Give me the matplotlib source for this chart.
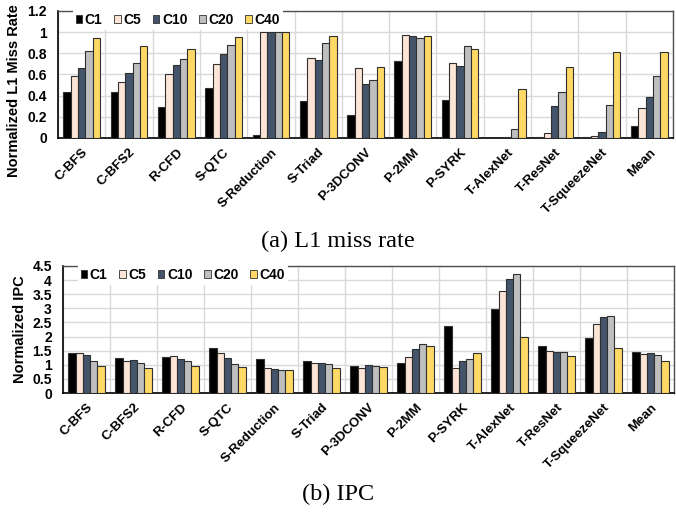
import matplotlib
matplotlib.use("Agg")
import matplotlib.pyplot as plt
import matplotlib.transforms as mtransforms
import numpy as np
from matplotlib.ticker import FuncFormatter, FixedLocator

categories = ["C-BFS", "C-BFS2", "R-CFD", "S-QTC", "S-Reduction", "S-Triad", "P-3DCONV",
              "P-2MM", "P-SYRK", "T-AlexNet", "T-ResNet", "T-SqueezeNet", "Mean"]
series = ["C1", "C5", "C10", "C20", "C40"]

miss_c1 = [0.43, 0.43, 0.29, 0.47, 0.03, 0.35, 0.22, 0.73, 0.36, 0.002, 0.01, 0.01, 0.11]
miss_c5 = [0.59, 0.53, 0.60, 0.70, 1.00, 0.76, 0.66, 0.975, 0.71, 0.003, 0.05, 0.02, 0.28]
miss_c10 = [0.66, 0.61, 0.69, 0.79, 1.00, 0.74, 0.51, 0.965, 0.68, 0.01, 0.30, 0.06, 0.39]
miss_c20 = [0.82, 0.71, 0.75, 0.88, 1.00, 0.90, 0.55, 0.94, 0.865, 0.085, 0.43, 0.31, 0.59]
miss_c40 = [0.94, 0.87, 0.84, 0.95, 1.00, 0.96, 0.67, 0.965, 0.84, 0.46, 0.67, 0.815, 0.81]

ipc_c1 = [1.40, 1.23, 1.26, 1.61, 1.20, 1.15, 0.97, 1.05, 2.37, 2.96, 1.65, 1.94, 1.47]
ipc_c5 = [1.43, 1.15, 1.30, 1.40, 0.90, 1.05, 0.90, 1.26, 0.90, 3.63, 1.50, 2.43, 1.37]
ipc_c10 = [1.35, 1.16, 1.22, 1.23, 0.84, 1.08, 1.01, 1.55, 1.13, 4.04, 1.47, 2.69, 1.40]
ipc_c20 = [1.14, 1.05, 1.14, 1.02, 0.82, 1.03, 0.95, 1.72, 1.21, 4.21, 1.47, 2.74, 1.36]
ipc_c40 = [0.95, 0.89, 0.97, 0.92, 0.81, 0.89, 0.91, 1.68, 1.40, 2.00, 1.30, 1.60, 1.14]

miss_ticks = [0, 0.2, 0.4, 0.6, 0.8, 1, 1.2]
ipc_ticks = [0, 0.5, 1, 1.5, 2, 2.5, 3, 3.5, 4, 4.5]

colors = ["#000000", "#FCE4D6", "#44546A", "#BFBFBF", "#FFD966"]

plt.rcParams['font.family'] = ['Liberation Sans', 'DejaVu Sans']

fig = plt.figure(figsize=(6.76, 5.13), dpi=100)


def draw(ax, data, ticks, ylabel, label_xy):
    n = len(categories)
    x = np.arange(n)
    w = 0.155
    for i, (vals, c) in enumerate(zip(data, colors)):
        ax.bar(x + (i - 2) * w, vals, w, color=c, edgecolor="#303030", linewidth=0.8,
               label=series[i], zorder=3)
    ax.set_xlim(-0.5, n - 0.5)
    ax.set_ylim(ticks[0], ticks[-1])
    ax.yaxis.set_major_locator(FixedLocator(ticks))
    ax.yaxis.set_major_formatter(FuncFormatter(lambda v, p: "{:g}".format(v)))
    ax.set_xticks(x)
    ax.set_xticklabels(categories, rotation=45, ha="right", rotation_mode="anchor",
                       fontsize=9.5, fontweight="bold")
    offset = mtransforms.ScaledTranslation(-7 / 100, -9 / 100, fig.dpi_scale_trans)
    for lab in ax.get_xticklabels():
        lab.set_transform(lab.get_transform() + offset)
    ax.xaxis.set_minor_locator(FixedLocator(np.arange(n + 1) - 0.5))
    ax.grid(True, axis="y", which="major", color="#D9D9D9", linewidth=1, zorder=0)
    ax.grid(True, axis="x", which="minor", color="#D9D9D9", linewidth=1, zorder=0)
    ax.tick_params(axis="x", which="both", length=0, pad=6)
    ax.tick_params(axis="y", length=0, pad=8)
    for lab in ax.get_yticklabels():
        lab.set_fontweight("bold")
        lab.set_fontsize(10)
    ax.set_ylabel(ylabel, fontsize=10.5, fontweight="bold")
    ax.yaxis.set_label_coords(*label_xy)
    for s in ["top", "right"]:
        ax.spines[s].set_color("#505050")
        ax.spines[s].set_linewidth(1.0)
    ax.spines["left"].set_color("#000000")
    ax.spines["bottom"].set_color("#000000")
    ax.spines["left"].set_linewidth(1.2)
    ax.spines["bottom"].set_linewidth(1.2)
    ax_h_px = ax.get_position().height * fig.get_figheight() * fig.dpi
    ax_w_px = ax.get_position().width * fig.get_figwidth() * fig.dpi
    leg = ax.legend(loc="center left", bbox_to_anchor=(15 / ax_w_px, 1 - 9 / ax_h_px), ncol=5,
                    frameon=True, fancybox=False, framealpha=1, edgecolor="none",
                    facecolor="white", prop={"weight": "bold", "size": 10},
                    handlelength=0.45, handleheight=0.45, handletextpad=0.2,
                    columnspacing=0.85, borderpad=0.2, borderaxespad=0)
    for h in leg.legend_handles:
        h.set_linewidth(0.6)
    leg.set_zorder(2.5)


ax1 = fig.add_axes([0.0858, 0.731, 0.9098, 0.2476])
draw(ax1, [miss_c1, miss_c5, miss_c10, miss_c20, miss_c40], miss_ticks,
     "Normalized L1 Miss Rate", (-0.060, 0.37))

ax2 = fig.add_axes([0.0932, 0.2339, 0.9038, 0.2476])
draw(ax2, [ipc_c1, ipc_c5, ipc_c10, ipc_c20, ipc_c40], ipc_ticks,
     "Normalized IPC", (-0.059, 0.504))

fig.text(0.5, 1 - 241 / 513, "(a) L1 miss rate", ha="center", va="center",
         fontsize=17.5, family=["Liberation Serif", "DejaVu Serif"])
fig.text(0.5, 1 - 494 / 513, "(b) IPC", ha="center", va="center",
         fontsize=17.5, family=["Liberation Serif", "DejaVu Serif"])

fig.savefig("out.png", dpi=100)
